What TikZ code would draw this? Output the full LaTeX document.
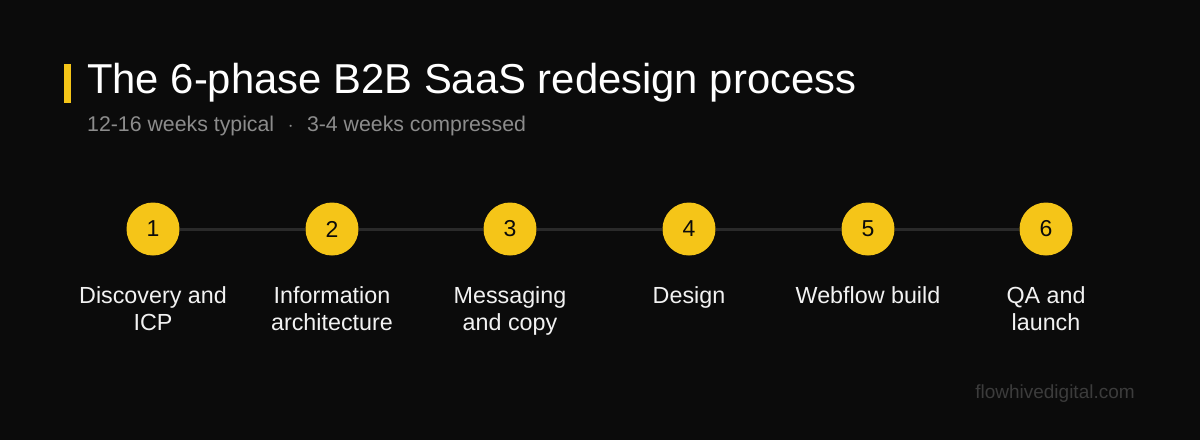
\documentclass[tikz,border=0pt]{standalone}
\usepackage{fontspec}
\setmainfont{Liberation Sans}
\usetikzlibrary{positioning}

\definecolor{bgdark}{HTML}{0B0B0B}
\definecolor{phaseyellow}{HTML}{F5C518}
\definecolor{trackgray}{HTML}{2A2A2A}
\definecolor{subgray}{HTML}{8C8C8C}
\definecolor{markgray}{HTML}{3C3C3C}
\definecolor{labelwhite}{HTML}{F2F2F2}

\begin{document}
\begin{tikzpicture}[x=1pt,y=-1pt]
\tikzset{
  phasenode/.style={circle,fill=phaseyellow,minimum size=53pt,inner sep=0pt,text=bgdark,font=\fontsize{23}{23}\selectfont},
  phaselabel/.style={anchor=north,align=center,text=labelwhite,font=\fontsize{23.3}{27.5}\selectfont,inner sep=0pt},
  track/.style={draw=trackgray,line width=3pt}
}
\fill[bgdark] (0,0) rectangle (1200,440);
\useasboundingbox (0,0) rectangle (1200,440);
\fill[phaseyellow] (64,64) rectangle (70.5,102.5);
\node[anchor=base west,inner sep=0pt,text=white,font=\fontsize{41.8}{41.8}\selectfont] (t_title) at (87,93) {The 6-phase B2B SaaS redesign process};
\node[anchor=base west,inner sep=0pt,text=subgray,font=\fontsize{21.3}{21.3}\selectfont] (t_sub) at (87,131) {12-16 weeks typical\hspace{13.5pt}$\cdot$\hspace{13.5pt}3-4 weeks compressed};
\node[phasenode] (n_1) at (153,229) {1};
\node[phasenode] (n_2) at (332,229) {2};
\node[phasenode] (n_3) at (510,229) {3};
\node[phasenode] (n_4) at (689,229) {4};
\node[phasenode] (n_5) at (868,229) {5};
\node[phasenode] (n_6) at (1046,229) {6};
\draw[track] (n_1) -- (n_2);
\draw[track] (n_2) -- (n_3);
\draw[track] (n_3) -- (n_4);
\draw[track] (n_4) -- (n_5);
\draw[track] (n_5) -- (n_6);
\node[phaselabel] (l_1) at (153,286) {Discovery and\\ICP};
\node[phaselabel] (l_2) at (332,286) {Information\\architecture};
\node[phaselabel] (l_3) at (510,286) {Messaging\\and copy};
\node[phaselabel] (l_4) at (689,286) {Design};
\node[phaselabel] (l_5) at (868,286) {Webflow build};
\node[phaselabel] (l_6) at (1046,286) {QA and\\launch};
\node[anchor=base,inner sep=0pt,text=markgray,font=\fontsize{19}{19}\selectfont] (t_mark) at (1055,398) {flowhivedigital.com};
\end{tikzpicture}
\end{document}
